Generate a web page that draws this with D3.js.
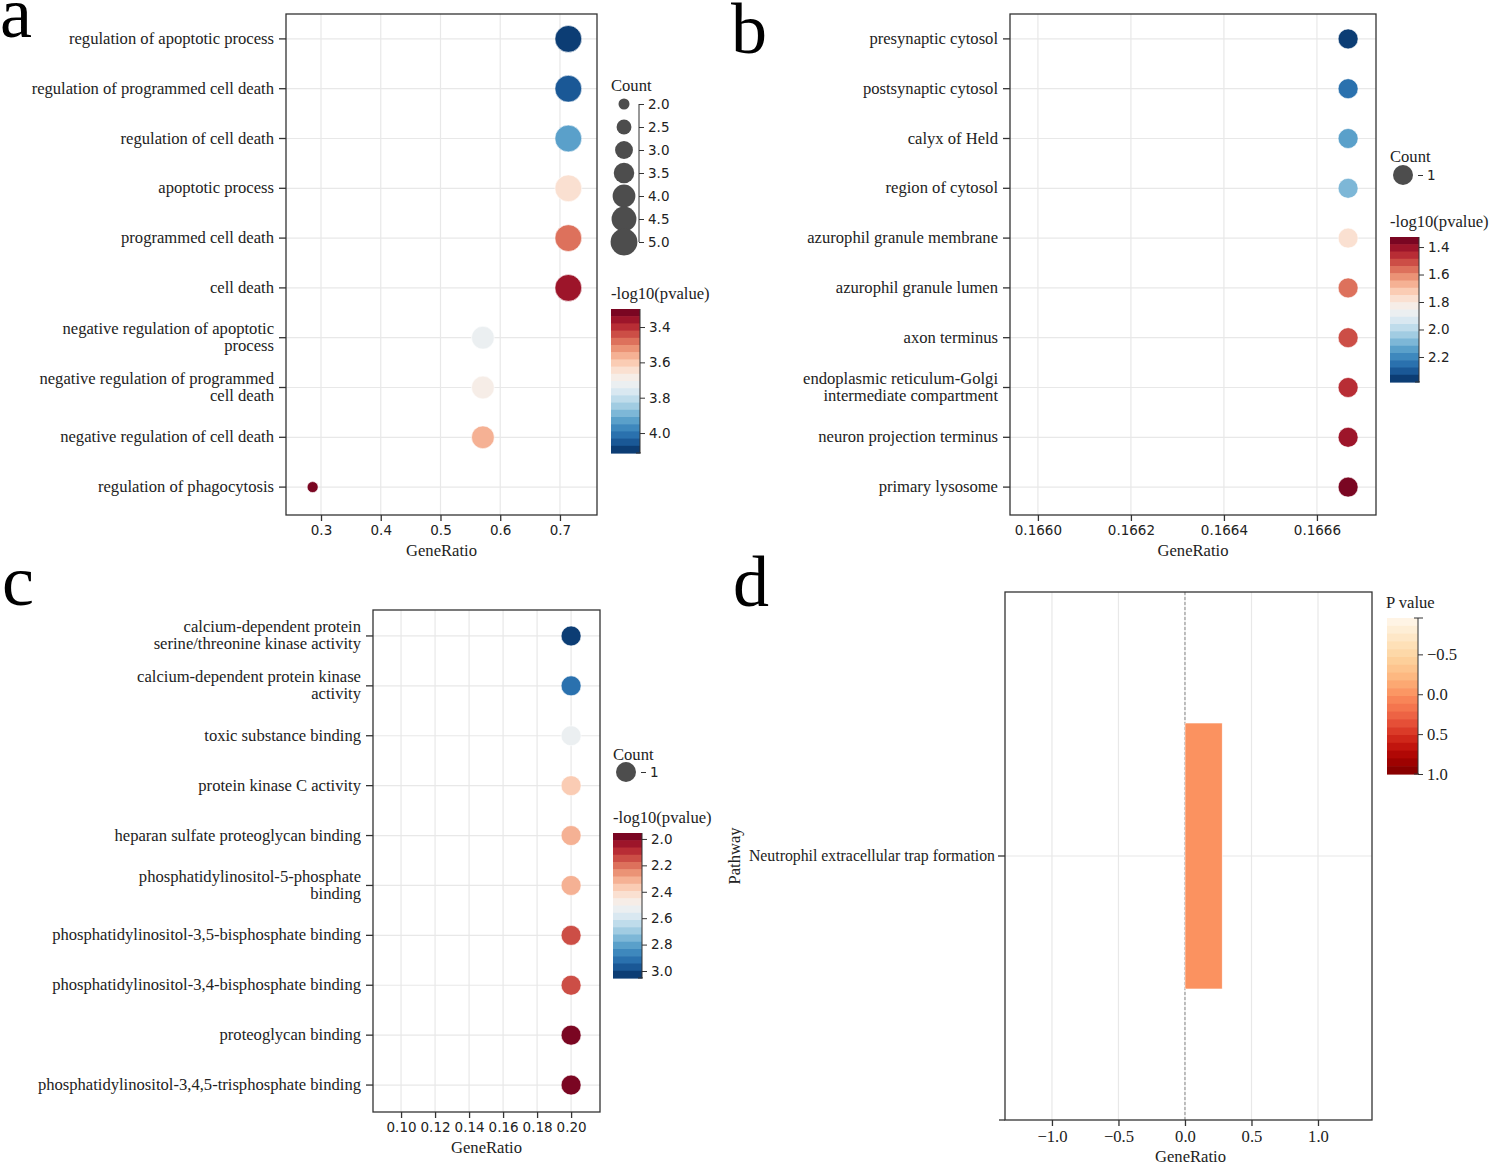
<!DOCTYPE html>
<html>
<head>
<meta charset="utf-8">
<script src="https://cdn.jsdelivr.net/npm/d3@7"></script>
<style>
html,body{margin:0;padding:0;background:#fff;}
svg{display:block;}
</style>
</head>
<body>
<svg id="chart" width="1489" height="1165"></svg>
<script>
// ---------------- DATA ----------------
const catsA = ["regulation of apoptotic process", "regulation of programmed cell death", "regulation of cell death",
  "apoptotic process", "programmed cell death", "cell death",
  "negative regulation of apoptotic\nprocess", "negative regulation of programmed\ncell death",
  "negative regulation of cell death", "regulation of phagocytosis"];
const ratioA = [0.714, 0.714, 0.714, 0.714, 0.714, 0.714, 0.571, 0.571, 0.571, 0.286];
const countA = [5, 5, 5, 5, 5, 5, 4, 4, 4, 2];
const logpA = [4.11, 4.06, 3.92, 3.66, 3.47, 3.36, 3.73, 3.68, 3.55, 3.30];
const xTicksA = [0.3, 0.4, 0.5, 0.6, 0.7];
const cbTicksA = [3.4, 3.6, 3.8, 4.0];
const countTicksA = [2.0, 2.5, 3.0, 3.5, 4.0, 4.5, 5.0];

const catsB = ["presynaptic cytosol", "postsynaptic cytosol", "calyx of Held", "region of cytosol",
  "azurophil granule membrane", "azurophil granule lumen", "axon terminus",
  "endoplasmic reticulum-Golgi\nintermediate compartment", "neuron projection terminus", "primary lysosome"];
const ratioB = [0.166667, 0.166667, 0.166667, 0.166667, 0.166667, 0.166667, 0.166667, 0.166667, 0.166667, 0.166667];
const countB = [1, 1, 1, 1, 1, 1, 1, 1, 1, 1];
const logpB = [2.38, 2.27, 2.12, 2.11, 1.80, 1.57, 1.51, 1.47, 1.43, 1.33];
const xTicksB = [0.1660, 0.1662, 0.1664, 0.1666];
const cbTicksB = [1.4, 1.6, 1.8, 2.0, 2.2];

const catsC = ["calcium-dependent protein\nserine/threonine kinase activity", "calcium-dependent protein kinase\nactivity",
  "toxic substance binding", "protein kinase C activity", "heparan sulfate proteoglycan binding",
  "phosphatidylinositol-5-phosphate\nbinding", "phosphatidylinositol-3,5-bisphosphate binding",
  "phosphatidylinositol-3,4-bisphosphate binding", "proteoglycan binding",
  "phosphatidylinositol-3,4,5-trisphosphate binding"];
const ratioC = [0.2, 0.2, 0.2, 0.2, 0.2, 0.2, 0.2, 0.2, 0.2, 0.2];
const countC = [1, 1, 1, 1, 1, 1, 1, 1, 1, 1];
const logpC = [3.05, 2.92, 2.51, 2.34, 2.33, 2.30, 2.13, 2.13, 1.96, 1.96];
const xTicksC = [0.10, 0.12, 0.14, 0.16, 0.18, 0.20];
const cbTicksC = [2.0, 2.2, 2.4, 2.6, 2.8, 3.0];

const catsD = ["Neutrophil extracellular trap formation"];
const ratioD = [0.28];
const pvalD = [0.0];
const xTicksD = [-1.0, -0.5, 0.0, 0.5, 1.0];
const cbTicksD = [-0.5, 0.0, 0.5, 1.0];

// ---------------- DRAW ----------------
const svg = d3.select("#chart");
const SERIF = "'Liberation Serif','Times New Roman',serif";
const SANS = "'DejaVu Sans',sans-serif";
const FS = 16.6;
const NS = 13.5;
const TXT = "#222";
const GRID = "#e8e8e8";
const AX = "#333";

function letter(t, x, y) {
  svg.append("text").attr("x", x).attr("y", y).text(t)
    .attr("font-family", SERIF).attr("font-size", 72).attr("fill", "#000");
}

function drawCatLabels(g, cats, y, xRight, fs) {
  cats.forEach(c => {
    const lines = c.split("\n");
    const yc = y(c);
    lines.forEach((ln, i) => {
      g.append("text")
        .attr("x", xRight)
        .attr("y", yc + 5 + (i - (lines.length - 1) / 2) * 17)
        .attr("text-anchor", "end")
        .attr("font-family", SERIF).attr("font-size", fs).attr("fill", TXT)
        .text(ln);
    });
  });
}

function colorbar(g, x0, y0, w, h, domain, ticks, interp, fmt, font, fs) {
  const n = 20;
  const yS = d3.scaleLinear().domain(domain).range([y0, y0 + h]);
  for (let i = 0; i < n; i++) {
    const t = (i + 0.5) / n;
    g.append("rect").attr("x", x0).attr("y", y0 + i * h / n).attr("width", w).attr("height", h / n + 0.6)
      .attr("fill", interp(t));
  }
  const ax = g.append("g").attr("transform", `translate(${x0 + w},0)`)
    .call(d3.axisRight(yS).tickValues(ticks).tickFormat(fmt).tickSize(5).tickPadding(4));
  ax.select(".domain").attr("stroke", AX).attr("d", `M0,${y0}V${y0 + h}`);
  ax.selectAll(".tick line").attr("stroke", AX);
  ax.selectAll("text").attr("font-family", font).attr("font-size", fs).attr("fill", TXT);
  g.append("line").attr("x1", x0 + w - 4).attr("x2", x0 + w + 1).attr("y1", y0 + h).attr("y2", y0 + h).attr("stroke", AX);
  return yS;
}

function dotPanel(o) {
  const g = svg.append("g");
  const [bx0, bx1, by0, by1] = o.box;
  const x = d3.scaleLinear().domain(o.xDomain).range([bx0, bx1]);
  const y = d3.scalePoint().domain(o.cats).range(o.rowRange).padding(0.5);
  const [cmin, cmax] = o.cDomain;
  const color = v => {
    let t = (v - cmin) / (cmax - cmin);
    t = Math.max(0, Math.min(0.9999, t));
    t = (Math.floor(t * 20) + 0.5) / 20;
    return d3.interpolateRdBu(t);
  };
  o.xTicks.forEach(t => g.append("line").attr("x1", x(t)).attr("x2", x(t)).attr("y1", by0).attr("y2", by1)
    .attr("stroke", GRID).attr("stroke-width", 1.2));
  o.cats.forEach(c => g.append("line").attr("x1", bx0).attr("x2", bx1).attr("y1", y(c)).attr("y2", y(c))
    .attr("stroke", GRID).attr("stroke-width", 1.2));
  g.selectAll("circle.dot").data(o.cats).join("circle").attr("class", "dot")
    .attr("cx", (d, i) => x(o.ratio[i]))
    .attr("cy", d => y(d))
    .attr("r", (d, i) => o.rScale(o.count[i]))
    .attr("fill", (d, i) => color(o.logp[i]))
    .attr("stroke", "#fff").attr("stroke-width", 0.6);
  g.append("rect").attr("x", bx0).attr("y", by0).attr("width", bx1 - bx0).attr("height", by1 - by0)
    .attr("fill", "none").attr("stroke", AX).attr("stroke-width", 1.3);
  const xa = g.append("g").attr("transform", `translate(0,${by1})`)
    .call(d3.axisBottom(x).tickValues(o.xTicks).tickFormat(d3.format(o.xFmt)).tickSize(6).tickPadding(4));
  xa.select(".domain").remove();
  xa.selectAll(".tick line").attr("stroke", AX).attr("stroke-width", 1.3);
  xa.selectAll("text").attr("font-family", SANS).attr("font-size", NS).attr("fill", TXT);
  g.append("text").attr("x", (bx0 + bx1) / 2).attr("y", by1 + 41).attr("text-anchor", "middle")
    .attr("font-family", SERIF).attr("font-size", FS).attr("fill", TXT).text("GeneRatio");
  o.cats.forEach(c => g.append("line").attr("x1", bx0 - 7).attr("x2", bx0).attr("y1", y(c)).attr("y2", y(c))
    .attr("stroke", AX).attr("stroke-width", 1.3));
  drawCatLabels(g, o.cats, y, bx0 - 12, FS);
  const lx = o.legX;
  g.append("text").attr("x", lx).attr("y", o.countY).attr("font-family", SERIF).attr("font-size", FS)
    .attr("fill", TXT).text("Count");
  const cy = d3.scaleLinear().domain(o.countDomain).range(o.countRange);
  o.countTicks.forEach(t => {
    g.append("circle").attr("cx", lx + 13).attr("cy", cy(t)).attr("r", o.rScale(t)).attr("fill", "#4d4d4d");
  });
  const ca = g.append("g").attr("transform", `translate(${lx + 28},0)`)
    .call(d3.axisRight(cy).tickValues(o.countTicks).tickFormat(o.countFmt).tickSize(5).tickPadding(4));
  ca.select(".domain").attr("stroke", AX).attr("d", o.countTicks.length > 1 ? `M0,${o.countRange[0]}V${o.countRange[1]}` : "");
  ca.selectAll(".tick line").attr("stroke", AX);
  ca.selectAll("text").attr("font-family", SANS).attr("font-size", NS).attr("fill", TXT);
  g.append("text").attr("x", lx).attr("y", o.cbY - 10).attr("font-family", SERIF).attr("font-size", FS)
    .attr("fill", TXT).text("-log10(pvalue)");
  colorbar(g, lx, o.cbY, 29, o.cbH, o.cDomain, o.cbTicks, d3.interpolateRdBu, d3.format(".1f"), SANS, NS);
}

// Panel a
dotPanel({
  cats: catsA, ratio: ratioA, count: countA, logp: logpA,
  box: [286, 597, 14, 515], rowRange: [14, 512], xDomain: [0.2414, 0.762], xTicks: xTicksA, xFmt: ".1f",
  rScale: d3.scaleRadial().domain([2, 5]).range([5.5, 13.4]),
  cDomain: [3.298, 4.113], cbTicks: cbTicksA, cbY: 309, cbH: 144,
  legX: 611, countY: 91, countTicks: countTicksA, countDomain: [2, 5], countRange: [104, 242], countFmt: d3.format(".1f")
});
// Panel b
dotPanel({
  cats: catsB, ratio: ratioB, count: countB, logp: logpB,
  box: [1010, 1376, 14, 515], rowRange: [14, 512], xDomain: [0.165940, 0.166727], xTicks: xTicksB, xFmt: ".4f",
  rScale: () => 10,
  cDomain: [1.327, 2.382], cbTicks: cbTicksB, cbY: 237, cbH: 145,
  legX: 1390, countY: 162, countTicks: [1], countDomain: [0, 2], countRange: [165, 185], countFmt: d3.format("d")
});
// Panel c
dotPanel({
  cats: catsC, ratio: ratioC, count: countC, logp: logpC,
  box: [373, 600, 610, 1112], rowRange: [611, 1110], xDomain: [0.0835, 0.217], xTicks: xTicksC, xFmt: ".2f",
  rScale: () => 10,
  cDomain: [1.955, 3.053], cbTicks: cbTicksC, cbY: 833, cbH: 145,
  legX: 613, countY: 760, countTicks: [1], countDomain: [0, 2], countRange: [762, 782], countFmt: d3.format("d")
});

// Panel d
(function () {
  const g = svg.append("g");
  const bx0 = 1005, bx1 = 1372, by0 = 592, by1 = 1120;
  const x = d3.scaleLinear().domain([-1.353, 1.406]).range([bx0, bx1]);
  const y = d3.scaleBand().domain(catsD).range([by0, by1]).paddingInner(0.33).paddingOuter(0.33);
  const cDom = [-0.956, 1.0];
  const cS = d3.scaleLinear().domain(cDom).range([0, 1]);
  xTicksD.forEach(t => g.append("line").attr("x1", x(t)).attr("x2", x(t)).attr("y1", by0).attr("y2", by1)
    .attr("stroke", GRID).attr("stroke-width", 1.2));
  catsD.forEach(c => g.append("line").attr("x1", bx0).attr("x2", bx1)
    .attr("y1", y(c) + y.bandwidth() / 2).attr("y2", y(c) + y.bandwidth() / 2)
    .attr("stroke", GRID).attr("stroke-width", 1.2));
  g.append("line").attr("x1", x(0)).attr("x2", x(0)).attr("y1", by0).attr("y2", by1)
    .attr("stroke", "#888").attr("stroke-width", 1).attr("stroke-dasharray", "3,2");
  g.selectAll("rect.bar").data(catsD).join("rect").attr("class", "bar")
    .attr("x", (d, i) => Math.min(x(0), x(ratioD[i])))
    .attr("width", (d, i) => Math.abs(x(ratioD[i]) - x(0)))
    .attr("y", d => y(d)).attr("height", y.bandwidth())
    .attr("fill", (d, i) => d3.interpolateOrRd(cS(pvalD[i])))
    .attr("stroke", "#fff").attr("stroke-width", 0.6);
  g.append("rect").attr("x", bx0).attr("y", by0).attr("width", bx1 - bx0).attr("height", by1 - by0)
    .attr("fill", "none").attr("stroke", AX).attr("stroke-width", 1.3);
  const xa = g.append("g").attr("transform", `translate(0,${by1})`)
    .call(d3.axisBottom(x).tickValues(xTicksD).tickFormat(d3.format(".1f")).tickSize(6).tickPadding(4));
  xa.select(".domain").remove();
  xa.selectAll(".tick line").attr("stroke", AX).attr("stroke-width", 1.3);
  xa.selectAll("text").attr("font-family", SERIF).attr("font-size", FS).attr("fill", TXT);
  g.append("text").attr("x", (bx0 + bx1) / 2 + 2).attr("y", by1 + 42).attr("text-anchor", "middle")
    .attr("font-family", SERIF).attr("font-size", FS).attr("fill", TXT).text("GeneRatio");
  catsD.forEach(c => {
    const yc = y(c) + y.bandwidth() / 2;
    g.append("line").attr("x1", bx0 - 7).attr("x2", bx0).attr("y1", yc).attr("y2", yc).attr("stroke", AX).attr("stroke-width", 1.3);
    g.append("text").attr("x", bx0 - 10).attr("y", yc + 5).attr("text-anchor", "end")
      .attr("font-family", SERIF).attr("font-size", 15.8).attr("fill", TXT).text(c);
  });
  g.append("line").attr("x1", bx0 - 6).attr("x2", bx0).attr("y1", by1).attr("y2", by1).attr("stroke", AX).attr("stroke-width", 1.3);
  g.append("text").attr("transform", `translate(740,${(by0 + by1) / 2}) rotate(-90)`).attr("text-anchor", "middle")
    .attr("font-family", SERIF).attr("font-size", FS).attr("fill", TXT).text("Pathway");
  g.append("text").attr("x", 1386).attr("y", 608).attr("font-family", SERIF).attr("font-size", FS)
    .attr("fill", TXT).text("P value");
  const cg = g.append("g");
  colorbar(cg, 1387, 618, 31, 156, cDom, cbTicksD, d3.interpolateOrRd, d3.format(".1f"), SERIF, FS);
  cg.append("line").attr("x1", 1414).attr("x2", 1423).attr("y1", 618).attr("y2", 618).attr("stroke", AX);
})();

letter("a", 0, 37);
letter("b", 731, 53);
letter("c", 2, 605);
letter("d", 733, 606);
</script>
</body>
</html>
